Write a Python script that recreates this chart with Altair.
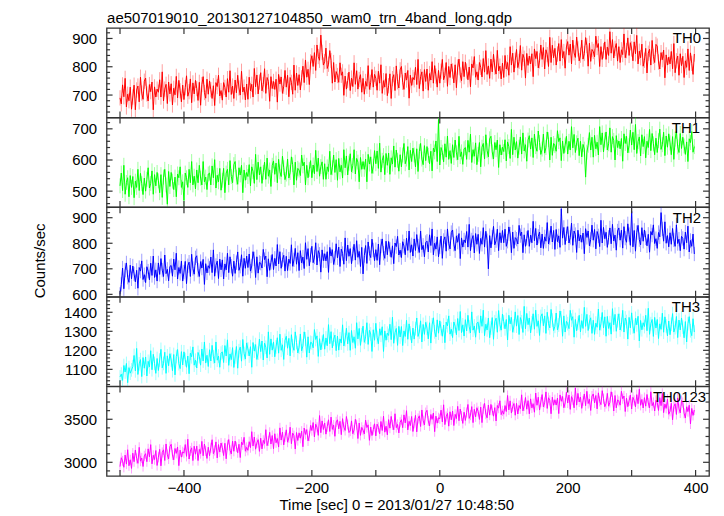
import altair as alt
import pandas as pd

# ---------------- data ----------------
TIME = list(range(-500, 400, 2))

TH0 = [
    690, 669, 736, 694, 759, 658, 703, 680, 728, 650,
    693, 735, 648, 718, 732, 676, 763, 707, 685, 749,
    760, 704, 679, 737, 712, 746, 648, 729, 693, 721,
    710, 754, 693, 782, 679, 721, 738, 670, 746, 704,
    740, 665, 724, 701, 766, 690, 752, 715, 676, 735,
    684, 726, 768, 696, 712, 757, 673, 743, 704, 752,
    723, 681, 745, 664, 737, 765, 709, 689, 756, 703,
    750, 719, 688, 733, 663, 744, 730, 770, 697, 716,
    682, 744, 727, 693, 758, 710, 786, 702, 732, 688,
    753, 708, 770, 725, 700, 784, 711, 728, 683, 739,
    685, 763, 715, 738, 693, 794, 729, 771, 704, 746,
    779, 715, 737, 793, 706, 762, 748, 678, 765, 723,
    748, 720, 756, 675, 773, 739, 764, 706, 731, 787,
    728, 770, 694, 762, 745, 703, 806, 717, 778, 734,
    772, 718, 761, 802, 744, 824, 763, 791, 737, 817,
    839, 801, 850, 787, 877, 836, 823, 912, 851, 806,
    818, 866, 794, 809, 857, 822, 742, 815, 746, 783,
    769, 745, 814, 770, 782, 699, 767, 721, 751, 781,
    716, 760, 730, 814, 738, 786, 721, 755, 772, 710,
    759, 703, 748, 731, 804, 720, 745, 790, 728, 773,
    759, 717, 784, 742, 807, 706, 751, 728, 776, 698,
    733, 775, 688, 758, 772, 716, 803, 747, 725, 789,
    801, 745, 720, 778, 753, 787, 689, 770, 734, 762,
    754, 798, 737, 826, 723, 765, 782, 714, 790, 748,
    792, 717, 776, 753, 818, 742, 804, 767, 728, 787,
    742, 784, 826, 754, 770, 815, 731, 801, 762, 810,
    785, 743, 807, 726, 799, 827, 771, 751, 818, 765,
    816, 785, 754, 799, 729, 810, 796, 836, 763, 782,
    753, 815, 798, 764, 829, 781, 857, 773, 803, 759,
    827, 782, 844, 799, 774, 858, 785, 802, 757, 813,
    762, 840, 792, 815, 770, 871, 806, 848, 781, 823,
    861, 797, 819, 875, 788, 844, 830, 760, 847, 805,
    838, 810, 846, 765, 863, 829, 854, 796, 821, 877,
    826, 868, 792, 860, 843, 801, 904, 815, 876, 832,
    865, 806, 845, 882, 820, 896, 831, 854, 795, 870,
    889, 841, 880, 810, 894, 849, 833, 905, 863, 821,
    841, 894, 827, 847, 903, 875, 802, 883, 819, 861,
    854, 835, 908, 868, 882, 801, 871, 826, 857, 888,
    826, 870, 840, 924, 848, 896, 831, 865, 882, 820,
    871, 815, 860, 843, 916, 832, 857, 902, 840, 885,
    863, 821, 888, 846, 911, 810, 855, 832, 880, 802,
    823, 865, 778, 848, 862, 806, 893, 837, 815, 879,
    873, 817, 792, 850, 825, 859, 761, 842, 806, 834,
    810, 854, 793, 882, 779, 821, 838, 770, 846, 804,
    837, 762, 821, 798, 863, 787, 849, 812, 773, 845,
]

TH1 = [
    517, 558, 502, 583, 490, 528, 543, 482, 550, 512,
    547, 479, 532, 512, 570, 502, 557, 524, 489, 542,
    500, 538, 575, 510, 525, 565, 490, 553, 517, 560,
    533, 495, 553, 480, 545, 570, 520, 458, 563, 515,
    560, 532, 505, 545, 482, 555, 543, 578, 512, 530,
    470, 558, 543, 512, 570, 527, 595, 520, 548, 507,
    568, 527, 583, 542, 520, 595, 530, 545, 505, 555,
    558, 520, 581, 543, 601, 510, 551, 530, 573, 503,
    535, 573, 495, 558, 570, 520, 598, 547, 527, 585,
    595, 545, 522, 575, 552, 583, 495, 568, 535, 560,
    547, 585, 517, 578, 563, 525, 618, 537, 593, 552,
    578, 525, 560, 593, 538, 606, 548, 568, 515, 583,
    597, 554, 590, 527, 602, 562, 547, 612, 575, 537,
    555, 603, 542, 560, 610, 585, 520, 593, 535, 573,
    568, 550, 616, 581, 593, 520, 583, 543, 570, 598,
    543, 584, 556, 631, 563, 606, 548, 579, 594, 538,
    588, 538, 578, 563, 628, 553, 575, 616, 560, 601,
    535, 605, 562, 583, 542, 633, 575, 613, 552, 590,
    620, 562, 582, 633, 555, 605, 593, 530, 608, 570,
    595, 570, 603, 530, 618, 587, 610, 557, 580, 630,
    588, 629, 573, 654, 561, 599, 614, 553, 621, 583,
    622, 554, 607, 587, 645, 577, 632, 599, 564, 617,
    578, 616, 653, 588, 603, 643, 568, 631, 595, 638,
    616, 578, 636, 563, 628, 653, 603, 585, 646, 598,
    643, 615, 588, 628, 565, 638, 626, 661, 595, 730,
    584, 640, 625, 594, 652, 609, 677, 602, 630, 589,
    649, 608, 664, 623, 601, 676, 611, 626, 586, 636,
    640, 602, 663, 625, 683, 592, 633, 612, 655, 585,
    618, 656, 578, 641, 653, 603, 681, 630, 610, 668,
    676, 626, 603, 656, 633, 664, 576, 649, 616, 641,
    627, 665, 597, 658, 643, 605, 698, 617, 673, 632,
    659, 606, 641, 674, 619, 687, 629, 649, 596, 664,
    678, 635, 671, 608, 683, 643, 628, 693, 656, 618,
    635, 683, 622, 640, 690, 665, 600, 673, 615, 653,
    646, 628, 694, 659, 671, 598, 661, 621, 648, 676,
    619, 660, 632, 707, 639, 682, 624, 655, 670, 614,
    660, 610, 650, 635, 545, 625, 647, 688, 632, 673,
    609, 679, 636, 657, 616, 707, 649, 687, 626, 664,
    690, 632, 652, 703, 625, 675, 663, 600, 678, 640,
    661, 636, 669, 596, 684, 653, 676, 623, 646, 696,
    648, 689, 633, 714, 621, 659, 674, 613, 681, 643,
    675, 607, 660, 640, 698, 630, 685, 652, 617, 670,
    624, 662, 699, 634, 649, 689, 614, 677, 641, 684,
    655, 617, 675, 602, 667, 692, 642, 624, 685, 637,
    673, 645, 618, 658, 595, 668, 656, 691, 625, 643,
]

TH2 = [
    600, 639, 703, 622, 695, 723, 667, 647, 714, 661,
    711, 680, 649, 694, 624, 705, 691, 731, 658, 677,
    646, 708, 691, 657, 722, 674, 750, 666, 696, 652,
    723, 678, 740, 695, 670, 754, 681, 698, 653, 709,
    713, 671, 738, 696, 761, 660, 705, 682, 730, 652,
    687, 729, 642, 712, 726, 670, 757, 701, 679, 743,
    751, 695, 670, 728, 703, 737, 639, 720, 684, 712,
    702, 746, 685, 774, 671, 713, 730, 662, 738, 696,
    735, 660, 719, 696, 761, 685, 747, 710, 671, 730,
    682, 724, 766, 694, 710, 755, 671, 741, 702, 750,
    705, 758, 691, 711, 767, 739, 666, 747, 683, 725,
    722, 703, 776, 736, 750, 669, 739, 694, 725, 756,
    697, 741, 711, 795, 719, 767, 702, 736, 753, 691,
    749, 693, 738, 721, 794, 710, 735, 780, 718, 763,
    693, 771, 723, 746, 701, 802, 737, 779, 712, 754,
    788, 724, 746, 802, 715, 771, 757, 687, 774, 732,
    759, 731, 767, 686, 784, 750, 775, 717, 742, 798,
    743, 785, 709, 777, 760, 718, 821, 732, 793, 749,
    779, 720, 759, 796, 734, 810, 745, 768, 709, 784,
    680, 752, 791, 721, 805, 760, 744, 816, 774, 732,
    775, 733, 797, 716, 789, 817, 761, 741, 808, 755,
    807, 776, 745, 790, 720, 801, 787, 827, 754, 773,
    744, 806, 789, 755, 820, 772, 848, 764, 794, 750,
    817, 772, 834, 789, 764, 848, 775, 792, 747, 803,
    808, 766, 833, 791, 856, 755, 800, 777, 825, 747,
    786, 828, 741, 811, 825, 769, 856, 800, 778, 842,
    852, 796, 771, 829, 804, 838, 740, 821, 785, 813,
    802, 846, 785, 874, 771, 813, 830, 762, 838, 796,
    835, 760, 819, 796, 861, 785, 847, 810, 700, 830,
    782, 824, 866, 794, 810, 855, 771, 841, 802, 850,
    802, 855, 788, 808, 864, 836, 763, 844, 780, 822,
    816, 797, 870, 830, 844, 763, 833, 788, 819, 850,
    788, 832, 802, 886, 810, 858, 793, 827, 844, 782,
    836, 780, 825, 808, 881, 797, 822, 867, 805, 850,
    776, 854, 806, 829, 784, 935, 820, 862, 795, 837,
    865, 801, 823, 879, 792, 848, 834, 764, 851, 809,
    832, 804, 840, 759, 857, 823, 848, 790, 815, 871,
    812, 854, 778, 846, 829, 787, 890, 801, 862, 818,
    843, 784, 823, 860, 798, 874, 809, 832, 773, 848,
    860, 812, 851, 781, 865, 820, 804, 876, 834, 792,
    925, 786, 850, 769, 842, 870, 814, 794, 861, 808,
    852, 821, 790, 835, 765, 846, 832, 872, 799, 818,
    780, 842, 825, 920, 856, 808, 884, 800, 830, 786,
    841, 796, 858, 813, 788, 872, 799, 816, 771, 827,
    819, 777, 844, 802, 867, 766, 811, 788, 836, 758,
]

TH3 = [
    1060, 1075, 1042, 1120, 1086, 1131, 1030, 1109, 1080, 1097,
    1114, 1173, 1092, 1210, 1073, 1129, 1151, 1062, 1162, 1106,
    1165, 1065, 1142, 1113, 1198, 1098, 1179, 1131, 1079, 1157,
    1094, 1149, 1205, 1108, 1131, 1190, 1079, 1171, 1119, 1182,
    1149, 1093, 1178, 1071, 1167, 1204, 1130, 1104, 1193, 1123,
    1192, 1151, 1111, 1170, 1077, 1185, 1166, 1218, 1122, 1148,
    1107, 1189, 1167, 1122, 1207, 1144, 1244, 1133, 1174, 1115,
    1203, 1144, 1226, 1166, 1133, 1244, 1148, 1170, 1111, 1185,
    1192, 1136, 1225, 1170, 1255, 1121, 1181, 1151, 1214, 1110,
    1165, 1220, 1106, 1198, 1217, 1143, 1257, 1183, 1154, 1239,
    1207, 1170, 1219, 1111, 1241, 1196, 1230, 1152, 1185, 1259,
    1193, 1249, 1149, 1238, 1216, 1160, 1297, 1179, 1260, 1201,
    1244, 1166, 1218, 1266, 1185, 1285, 1200, 1229, 1152, 1252,
    1274, 1211, 1263, 1171, 1282, 1223, 1200, 1297, 1241, 1186,
    1216, 1286, 1197, 1223, 1297, 1260, 1164, 1271, 1186, 1242,
    1239, 1213, 1309, 1257, 1276, 1168, 1261, 1202, 1242, 1283,
    1206, 1265, 1224, 1335, 1235, 1298, 1213, 1258, 1280, 1198,
    1275, 1201, 1260, 1238, 1334, 1223, 1256, 1316, 1234, 1293,
    1200, 1304, 1241, 1271, 1211, 1345, 1260, 1315, 1226, 1282,
    1327, 1242, 1271, 1345, 1231, 1305, 1286, 1194, 1308, 1253,
    1342, 1268, 1235, 1313, 1279, 1324, 1194, 1302, 1253, 1290,
    1278, 1337, 1256, 1374, 1237, 1293, 1315, 1226, 1326, 1270,
    1325, 1225, 1302, 1273, 1358, 1258, 1339, 1291, 1239, 1317,
    1259, 1314, 1370, 1273, 1296, 1355, 1244, 1336, 1284, 1347,
    1316, 1260, 1345, 1238, 1334, 1371, 1297, 1271, 1360, 1290,
    1355, 1314, 1274, 1333, 1240, 1348, 1329, 1381, 1285, 1311,
    1267, 1349, 1327, 1282, 1367, 1304, 1404, 1293, 1334, 1275,
    1361, 1302, 1384, 1324, 1291, 1402, 1306, 1328, 1269, 1343,
    1348, 1292, 1381, 1326, 1411, 1277, 1337, 1307, 1370, 1266,
    1317, 1372, 1258, 1350, 1369, 1295, 1409, 1335, 1306, 1391,
    1350, 1313, 1362, 1254, 1384, 1339, 1373, 1295, 1328, 1402,
    1327, 1383, 1283, 1372, 1350, 1294, 1431, 1313, 1394, 1335,
    1370, 1292, 1344, 1392, 1311, 1411, 1326, 1355, 1278, 1378,
    1392, 1329, 1381, 1289, 1400, 1341, 1318, 1415, 1359, 1304,
    1326, 1396, 1307, 1333, 1407, 1370, 1274, 1381, 1296, 1352,
    1340, 1314, 1410, 1358, 1377, 1269, 1362, 1303, 1343, 1384,
    1297, 1356, 1315, 1426, 1326, 1389, 1304, 1349, 1371, 1289,
    1358, 1284, 1343, 1321, 1417, 1306, 1339, 1399, 1317, 1376,
    1274, 1378, 1315, 1345, 1285, 1419, 1334, 1389, 1300, 1356,
    1392, 1307, 1336, 1410, 1296, 1370, 1351, 1259, 1373, 1318,
    1397, 1323, 1290, 1368, 1334, 1379, 1249, 1357, 1308, 1345,
    1325, 1384, 1303, 1421, 1284, 1340, 1362, 1273, 1373, 1317,
    1362, 1262, 1339, 1310, 1395, 1295, 1376, 1328, 1276, 1354,
    1282, 1337, 1393, 1296, 1319, 1378, 1267, 1359, 1307, 1370,
    1322, 1266, 1351, 1244, 1340, 1377, 1303, 1277, 1366, 1296,
]

TH0123 = [
    2950, 3053, 3016, 2942, 3084, 2979, 3146, 2960, 3029, 2929,
    3106, 3007, 3143, 3044, 2988, 3174, 3013, 3050, 2951, 3075,
    3100, 3007, 3156, 3063, 3205, 2982, 3081, 3032, 3137, 2963,
    3058, 3151, 2959, 3114, 3145, 3021, 3213, 3089, 3039, 3182,
    3209, 3085, 3029, 3160, 3104, 3178, 2961, 3141, 3060, 3122,
    3106, 3206, 3069, 3268, 3038, 3131, 3168, 3020, 3187, 3094,
    3188, 3020, 3150, 3101, 3243, 3076, 3212, 3132, 3045, 3175,
    3076, 3169, 3262, 3100, 3138, 3237, 3051, 3206, 3119, 3224,
    3171, 3078, 3221, 3041, 3202, 3264, 3140, 3097, 3246, 3128,
    3247, 3179, 3111, 3210, 3055, 3235, 3204, 3290, 3129, 3173,
    3139, 3239, 3170, 3356, 3189, 3294, 3152, 3226, 3263, 3127,
    3280, 3156, 3255, 3218, 3379, 3193, 3249, 3348, 3212, 3311,
    3158, 3332, 3227, 3276, 3177, 3400, 3258, 3351, 3202, 3295,
    3377, 3234, 3284, 3408, 3216, 3340, 3309, 3154, 3346, 3253,
    3342, 3280, 3361, 3181, 3398, 3324, 3380, 3249, 3305, 3429,
    3369, 3462, 3295, 3443, 3406, 3313, 3543, 3344, 3481, 3381,
    3457, 3327, 3414, 3494, 3358, 3525, 3383, 3432, 3302, 3470,
    3494, 3389, 3476, 3321, 3507, 3408, 3370, 3532, 3439, 3346,
    3363, 3481, 3332, 3375, 3499, 3437, 3276, 3456, 3313, 3406,
    3373, 3329, 3490, 3404, 3435, 3255, 3410, 3311, 3379, 3447,
    3307, 3443, 3406, 3332, 3474, 3369, 3536, 3350, 3419, 3319,
    3496, 3397, 3533, 3434, 3378, 3564, 3403, 3440, 3341, 3465,
    3495, 3402, 3551, 3458, 3600, 3377, 3476, 3427, 3532, 3358,
    3453, 3546, 3354, 3509, 3540, 3416, 3608, 3484, 3434, 3577,
    3604, 3480, 3424, 3555, 3499, 3573, 3356, 3536, 3455, 3517,
    3506, 3606, 3469, 3668, 3438, 3531, 3568, 3420, 3587, 3494,
    3595, 3427, 3557, 3508, 3650, 3483, 3619, 3539, 3452, 3582,
    3486, 3579, 3672, 3510, 3548, 3647, 3461, 3616, 3529, 3634,
    3591, 3498, 3641, 3461, 3622, 3684, 3560, 3517, 3666, 3548,
    3672, 3604, 3536, 3635, 3480, 3660, 3629, 3715, 3554, 3598,
    3559, 3659, 3590, 3776, 3609, 3714, 3572, 3646, 3683, 3547,
    3685, 3561, 3660, 3623, 3784, 3598, 3654, 3753, 3617, 3716,
    3563, 3737, 3632, 3681, 3582, 3805, 3663, 3756, 3607, 3700,
    3787, 3644, 3694, 3818, 3626, 3750, 3719, 3564, 3756, 3663,
    3727, 3665, 3746, 3566, 3783, 3709, 3765, 3634, 3690, 3814,
    3689, 3782, 3615, 3763, 3726, 3633, 3863, 3664, 3801, 3701,
    3757, 3627, 3714, 3794, 3658, 3825, 3683, 3732, 3602, 3770,
    3794, 3689, 3776, 3621, 3807, 3708, 3670, 3832, 3739, 3646,
    3683, 3801, 3652, 3695, 3819, 3757, 3596, 3776, 3633, 3726,
    3708, 3664, 3825, 3739, 3770, 3590, 3745, 3646, 3714, 3782,
    3619, 3755, 3718, 3644, 3786, 3681, 3848, 3662, 3731, 3631,
    3751, 3652, 3788, 3689, 3633, 3819, 3658, 3695, 3596, 3720,
    3695, 3602, 3751, 3658, 3800, 3577, 3676, 3627, 3732, 3558,
    3593, 3686, 3494, 3649, 3680, 3556, 3748, 3624, 3574, 3717,
    3694, 3570, 3514, 3645, 3589, 3663, 3446, 3626, 3545, 3607,
]

SERIES = [TH0, TH1, TH2, TH3, TH0123]
ERRORS = [27, 24, 28, 36, 59]          # 1-sigma error bar half length per band
NAMES = ["TH0", "TH1", "TH2", "TH3", "TH0123"]
Y_DOMAINS = [[621, 937], [449, 736], [591, 941], [1011, 1481], [2842, 3881]]
Y_MAJOR = [100, 100, 100, 100, 500]
Y_MINOR = [20, 20, 20, 20, 100]
X_DOMAIN = [-521, 421]
X_TICKS = [-500, -400, -300, -200, -100, 0, 100, 200, 300, 400]
X_LABELS = [-400, -200, 0, 200, 400]
TITLE = "ae507019010_20130127104850_wam0_trn_4band_long.qdp"
X_TITLE = "Time [sec] 0 = 2013/01/27 10:48:50"
Y_TITLE = "Counts/sec"

# ---------------- style ----------------
COLORS = ["#ff0000", "#00ff00", "#0000ff", "#00ffff", "#ff00ff"]
LABEL_DX = [8, 9, 8, 9, 3]
W, H = 605, 89.8
FONT = "Liberation Sans"
FS = 15
INK = "#333333"
TW = 1.2


def tick_values(dom, step):
    start = -(-dom[0] // step) * step
    return list(range(int(start), int(dom[1]) + 1, step))


def panel(i):
    df = pd.DataFrame({"t": TIME, "v": SERIES[i]})
    xs = alt.Scale(domain=X_DOMAIN, nice=False, zero=False)
    ys = alt.Scale(domain=Y_DOMAINS[i], nice=False, zero=False)
    y_minor_all = tick_values(Y_DOMAINS[i], Y_MINOR[i])
    y_major = tick_values(Y_DOMAINS[i], Y_MAJOR[i])
    y_minor = [v for v in y_minor_all if v % Y_MAJOR[i] != 0]
    is_bottom = i == len(NAMES) - 1
    is_mid = i == 2

    if is_bottom:
        x_axis = alt.Axis(orient="bottom", values=X_LABELS, ticks=False, tickSize=0,
                          domain=False, grid=False, labelPadding=5, format="d",
                          title=X_TITLE, titleX=291, titleY=34,
                          titleBaseline="alphabetic", titleAlign="center")
    else:
        x_axis = None

    y_kw = dict(orient="left", values=y_major, ticks=False, tickSize=0, domain=False,
                grid=False, labelPadding=10, format="d")
    if is_mid:
        y_axis = alt.Axis(title=Y_TITLE, titleX=-62, titleY=H / 2 + 8.5,
                          titleBaseline="alphabetic", **y_kw)
    else:
        y_axis = alt.Axis(title=None, **y_kw)

    base = alt.Chart(df)
    line = base.mark_line(color=COLORS[i], strokeWidth=1, clip=True).encode(
        x=alt.X("t:Q", scale=xs, axis=x_axis),
        y=alt.Y("v:Q", scale=ys, axis=y_axis),
    )
    err = base.transform_calculate(
        lo=f"datum.v - {ERRORS[i]}", hi=f"datum.v + {ERRORS[i]}"
    ).mark_rule(color=COLORS[i], strokeWidth=1, opacity=0.38, clip=True).encode(
        x=alt.X("t:Q", scale=xs, axis=None),
        y=alt.Y("lo:Q", scale=ys, axis=None),
        y2="hi:Q",
    )

    xt = alt.Chart(pd.DataFrame({"x": X_TICKS}))
    xx = alt.X("x:Q", scale=xs, axis=None)
    xt_top = xt.mark_rule(color=INK, strokeWidth=TW).encode(
        x=xx, y=alt.value(0), y2=alt.value(6))
    xt_bot = xt.mark_rule(color=INK, strokeWidth=TW).encode(
        x=xx, y=alt.value(H - 6), y2=alt.value(H))

    ymaj = alt.Chart(pd.DataFrame({"y": y_major}))
    ymin = alt.Chart(pd.DataFrame({"y": y_minor}))
    yy = alt.Y("y:Q", scale=ys, axis=None)
    ylm = ymaj.mark_rule(color=INK, strokeWidth=TW).encode(y=yy, x=alt.value(0), x2=alt.value(6))
    yln = ymin.mark_rule(color=INK, strokeWidth=TW).encode(y=yy, x=alt.value(0), x2=alt.value(3.5))
    yrm = ymaj.mark_rule(color=INK, strokeWidth=TW).encode(y=yy, x=alt.value(W - 6), x2=alt.value(W))
    yrn = ymin.mark_rule(color=INK, strokeWidth=TW).encode(y=yy, x=alt.value(W - 3.5), x2=alt.value(W))

    lab = alt.Chart(pd.DataFrame({"name": [NAMES[i]]})).mark_text(
        align="right", baseline="top", font=FONT, fontSize=FS, color="black"
    ).encode(text="name:N", x=alt.value(W - LABEL_DX[i]), y=alt.value(3.5))

    layers = [err, line, xt_top, xt_bot, ylm, yln, yrm, yrn, lab]
    if i == 0:
        ttl = alt.Chart(pd.DataFrame({"title": [TITLE]})).mark_text(
            align="left", baseline="alphabetic", font=FONT, fontSize=FS, color="black"
        ).encode(text="title:N", x=alt.value(0.5), y=alt.value(-5))
        layers.append(ttl)

    ch = alt.layer(*layers).resolve_axis(x="independent", y="independent")
    return ch.properties(width=W, height=H)


chart = alt.vconcat(*[panel(i) for i in range(len(NAMES))], spacing=0, bounds="flush").properties(
    padding={"left": 24, "top": 1, "right": 5, "bottom": 2}
).configure_view(stroke=INK, strokeWidth=1.3).configure_axis(
    labelFont=FONT, labelFontSize=FS, labelColor="black",
    titleFont=FONT, titleFontSize=FS, titleColor="black", titleFontWeight="normal",
)

chart.save("out.html", embed_options={"renderer": "svg", "actions": False})
